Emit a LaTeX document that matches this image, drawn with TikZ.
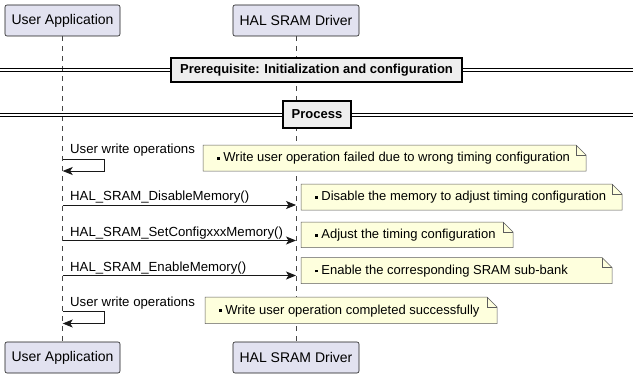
\documentclass[tikz,border=0pt]{standalone}
\usepackage{fontspec}
\setmainfont{Liberation Sans}
\usetikzlibrary{arrows.meta}
\definecolor{partfill}{HTML}{E2E2F0}
\definecolor{notefill}{HTML}{FEFFDD}
\definecolor{divfill}{HTML}{EEEEEE}
\definecolor{edge}{HTML}{181818}
\tikzset{
  part/.style={draw=edge, fill=partfill, line width=0.6pt, rounded corners=2pt, minimum width=#1, minimum height=31pt, inner sep=0pt, font=\fontsize{14}{16}\selectfont},
  lifeline/.style={draw=edge!80, line width=0.5pt, dash pattern=on 5pt off 5pt},
  msg/.style={draw=edge, line width=0.8pt, -{Stealth[length=10pt,width=8pt,inset=2.5pt]}},
  msgtext/.style={anchor=base west, inner sep=0pt, font=\fontsize{13.2}{15}\selectfont},
  notetext/.style={anchor=west, inner sep=0pt, font=\fontsize{13}{15}\selectfont},
  divline/.style={draw=black, line width=1pt},
  divbox/.style={draw=black, fill=divfill, line width=1.5pt, inner sep=0pt, minimum height=24pt, font=\bfseries\fontsize{13}{15}\selectfont}
}
\newcommand{\notebox}[6]{% name, x1, y1, x2, y2, text
  \fill[notefill] (#2,#3) -- (#4-10,#3) -- (#4,#3+10) -- (#4,#5) -- (#2,#5) -- cycle;
  \draw[edge!70, line width=0.5pt] (#2,#3) -- (#4-10,#3) -- (#4,#3+10) -- (#4,#5) -- (#2,#5) -- cycle;
  \draw[edge!70, line width=0.5pt] (#4-10,#3) -- (#4-10,#3+10) -- (#4,#3+10);
  \node[notetext] (#1) at (#2+14,{(#3+#5)/2+0.5}) {\raisebox{0.3ex}{\rule{2.6pt}{2.6pt}}\ #6};
}
\begin{document}
\begin{tikzpicture}[x=1pt,y=-1pt]
\useasboundingbox (0,0) rectangle (639,377);
\fill[white] (0,0) rectangle (639,377);
% participants
\node[part=115pt] (uaT) at (62.5,20.5) {User Application};
\node[part=126pt] (hdT) at (296,20.5) {HAL SRAM Driver};
\node[part=115pt] (uaB) at (62.5,357.5) {User Application};
\node[part=126pt] (hdB) at (296,357.5) {HAL SRAM Driver};
\draw[lifeline] (uaT.south) -- (uaB.north);
\draw[lifeline] (hdT.south) -- (hdB.north);
% dividers
\draw[divline] (0,68.3) -- (633,68.3);
\draw[divline] (0,71.5) -- (633,71.5);
\node[divbox, minimum width=291pt] (pre) at (316.5,70) {Prerequisite: Initialization and configuration};
\draw[divline] (0,113.3) -- (633,113.3);
\draw[divline] (0,116.5) -- (633,116.5);
\node[divbox, minimum width=68pt, minimum height=27pt] (proc) at (317,114.5) {Process};
% coordinates on lifelines
\coordinate (s1a) at (62.7,159);
\coordinate (s1b) at (104,159);
\coordinate (s1c) at (104,171);
\coordinate (s1d) at (62.7,171);
\coordinate (m2a) at (62.7,205);
\coordinate (m2b) at (296,205);
\coordinate (m3a) at (62.7,240.5);
\coordinate (m3b) at (296,240.5);
\coordinate (m4a) at (62.7,275.5);
\coordinate (m4b) at (296,275.5);
\coordinate (s5a) at (62.7,311.5);
\coordinate (s5b) at (104,311.5);
\coordinate (s5c) at (104,323.5);
\coordinate (s5d) at (62.7,323.5);
% messages
\node[msgtext] (t1) at (70,153) {User write operations};
\draw[msg] (s1a) -- (s1b) -- (s1c) -- (s1d);
\node[msgtext] (t2) at (70,200) {HAL\_SRAM\_DisableMemory()};
\draw[msg] (m2a) -- (m2b);
\node[msgtext] (t3) at (70,236) {HAL\_SRAM\_SetConfigxxxMemory()};
\draw[msg] (m3a) -- (m3b);
\node[msgtext] (t4) at (70,271) {HAL\_SRAM\_EnableMemory()};
\draw[msg] (m4a) -- (m4b);
\node[msgtext] (t5) at (70,306) {User write operations};
\draw[msg] (s5a) -- (s5b) -- (s5c) -- (s5d);
% notes
\notebox{n1}{203}{145}{586}{171}{Write user operation failed due to wrong timing configuration}
\notebox{n2}{301}{184}{622}{210}{Disable the memory to adjust timing configuration}
\notebox{n3}{301}{222}{513}{247.5}{Adjust the timing configuration}
\notebox{n4}{301}{257.5}{612}{283.5}{Enable the corresponding SRAM sub-bank}
\notebox{n5}{205}{297}{497}{323.5}{Write user operation completed successfully}
\end{tikzpicture}
\end{document}
